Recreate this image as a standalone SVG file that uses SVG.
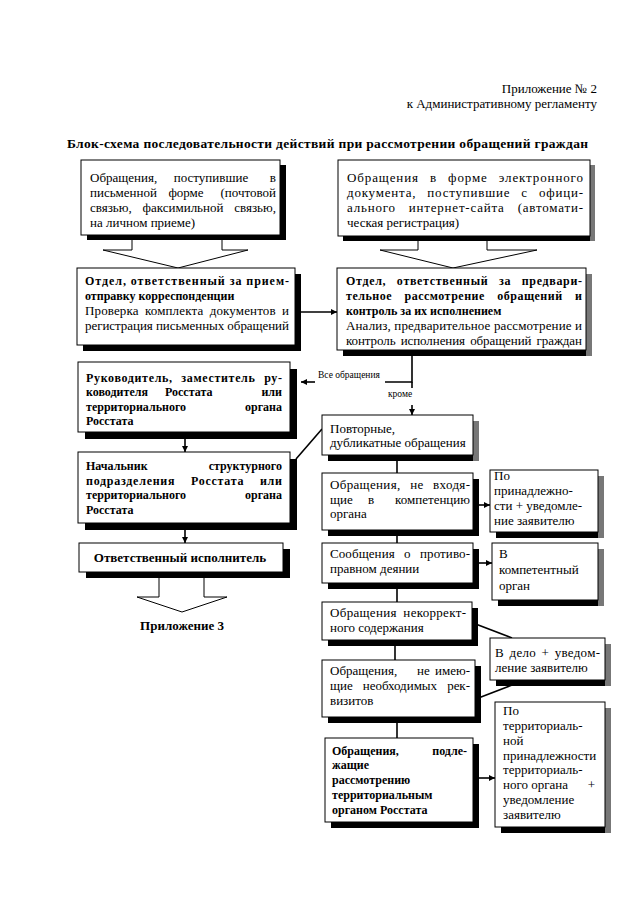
<svg xmlns="http://www.w3.org/2000/svg" width="640" height="905" viewBox="0 0 640 905">
<defs>
<style>
.t{font-family:"Liberation Serif","Times New Roman",serif;font-size:13px;fill:#000}
.b{font-weight:bold;font-size:12px}
.e{text-anchor:end}
.m{text-anchor:middle}
.s{font-size:9.5px}
.box{fill:#fff;stroke:#000;stroke-width:1}
.sh{fill:#000}
.shg{fill:#777}
.ln{fill:none;stroke:#000;stroke-width:1.6}
.ba{fill:#fff;stroke:#000;stroke-width:1}
</style>
<marker id="ah" viewBox="0 0 10 10" refX="10" refY="5" markerWidth="7" markerHeight="6" markerUnits="userSpaceOnUse" orient="auto">
<path d="M0,0 L10,5 L0,10 z" fill="#000"/>
</marker>
</defs>
<rect width="640" height="905" fill="#fff"/>

<g id="header">
<text class="t e" x="597" y="93">Приложение № 2</text>
<text class="t e" x="597" y="108">к Административному регламенту</text>
<text class="t" x="67" y="148" style="font-weight:bold;font-size:13.5px" textLength="521" lengthAdjust="spacing">Блок-схема последовательности действий при рассмотрении обращений граждан</text>
</g>

<g id="connectors">
<path class="ba" d="M132,240 V250 H103 L178,268 L248,250 H222 V240"/>
<path class="ba" d="M418,241 V250 H380 L453,268 L537,250 H487 V241"/>
<line class="ln" x1="301" y1="312" x2="337" y2="312" marker-end="url(#ah)"/>
<polyline class="ln" points="412,356 412,382 385,382"/>
<line class="ln" x1="412" y1="382" x2="412" y2="388"/>
<line class="ln" x1="315" y1="382" x2="301" y2="382" marker-end="url(#ah)"/>
<line class="ln" x1="412" y1="405" x2="412" y2="415" marker-end="url(#ah)"/>
<line class="ln" x1="185" y1="439" x2="185" y2="452" marker-end="url(#ah)"/>
<line class="ln" x1="296" y1="459" x2="322" y2="429"/>
<line class="ln" x1="185" y1="529" x2="185" y2="543" marker-end="url(#ah)"/>
<path class="ba" d="M159,578 V597 H137 L182,612 L227,597 H204 V578"/>
<line class="ln" x1="397" y1="455" x2="397" y2="473"/>
<line class="ln" x1="397" y1="525" x2="397" y2="543"/>
<line class="ln" x1="397" y1="585" x2="397" y2="602"/>
<line class="ln" x1="395" y1="642" x2="395" y2="660"/>
<line class="ln" x1="397" y1="723" x2="397" y2="738"/>
<line class="ln" x1="474" y1="505" x2="490" y2="505" marker-end="url(#ah)"/>
<line class="ln" x1="475" y1="563" x2="492" y2="563" marker-end="url(#ah)"/>
<line class="ln" x1="473" y1="623" x2="512" y2="638"/>
<line class="ln" x1="468" y1="702" x2="512" y2="685"/>
<line class="ln" x1="465" y1="778" x2="495" y2="778" marker-end="url(#ah)"/>
<text class="t s" x="318" y="378">Все обращения</text>
<text class="t s" x="388" y="397">кроме</text>
</g>

<g id="n1">
<rect class="sh" x="87" y="165" width="199" height="75"/>
<rect class="box" x="81" y="160" width="199" height="75"/>
<text class="t" x="90" y="182">Обращения,</text>
<text class="t m" x="211" y="182">поступившие</text>
<text class="t e" x="276" y="182">в</text>
<text class="t" x="90" y="197">письменной</text>
<text class="t m" x="186" y="197">форме</text>
<text class="t e" x="276" y="197">(почтовой</text>
<text class="t" x="90" y="212">связью,</text>
<text class="t m" x="183" y="212">факсимильной</text>
<text class="t e" x="276" y="212">связью,</text>
<text class="t" x="90" y="227">на личном приеме)</text>
</g>

<g id="n2">
<rect class="sh" x="343" y="236" width="252" height="5"/>
<rect class="shg" x="590" y="165" width="5" height="76"/>
<rect class="box" x="338" y="160" width="252" height="76"/>
<text class="t" x="347" y="182" style="word-spacing:7px" textLength="236" lengthAdjust="spacing">Обращения в форме электронного</text>
<text class="t" x="347" y="197" style="word-spacing:7px" textLength="236" lengthAdjust="spacing">документа, поступившие с офици-</text>
<text class="t" x="347" y="212" style="word-spacing:9px" textLength="236" lengthAdjust="spacing">ального интернет-сайта (автомати-</text>
<text class="t" x="347" y="227">ческая регистрация)</text>
</g>

<g id="n3">
<rect class="sh" x="83" y="274" width="218" height="77"/>
<rect class="box" x="77" y="268" width="218" height="77"/>
<text class="t b" x="85" y="285" textLength="204" lengthAdjust="spacing">Отдел, ответственный за прием-</text>
<text class="t b" x="85" y="300">отправку корреспонденции</text>
<text class="t" x="85" y="315" style="word-spacing:3px" textLength="204" lengthAdjust="spacing">Проверка комплекта документов и</text>
<text class="t" x="85" y="330" textLength="204" lengthAdjust="spacing">регистрация письменных обращений</text>
</g>

<g id="n4">
<rect class="sh" x="343" y="350" width="249" height="6"/>
<rect class="shg" x="586" y="274" width="6" height="82"/>
<rect class="box" x="337" y="268" width="249" height="82"/>
<text class="t b" x="346" y="285" style="word-spacing:7px" textLength="236" lengthAdjust="spacing">Отдел, ответственный за предвари-</text>
<text class="t b" x="346" y="300" style="word-spacing:9px" textLength="236" lengthAdjust="spacing">тельное рассмотрение обращений и</text>
<text class="t b" x="346" y="315">контроль за их исполнением</text>
<text class="t" x="346" y="330" textLength="236" lengthAdjust="spacing">Анализ, предварительное рассмотрение и</text>
<text class="t" x="346" y="345" style="word-spacing:2px" textLength="236" lengthAdjust="spacing">контроль исполнения обращений граждан</text>
</g>

<g id="n5">
<rect class="sh" x="85" y="369" width="212" height="70"/>
<rect class="box" x="78" y="362" width="212" height="70"/>
<text class="t b" x="86" y="382" style="word-spacing:5px" textLength="196" lengthAdjust="spacing">Руководитель, заместитель ру-</text>
<text class="t b" x="86" y="396">ководителя</text>
<text class="t b" x="165" y="396">Росстата</text>
<text class="t b e" x="282" y="396">или</text>
<text class="t b" x="86" y="411">территориального</text>
<text class="t b e" x="282" y="411">органа</text>
<text class="t b" x="86" y="425">Росстата</text>
</g>

<g id="n6">
<rect class="sh" x="85" y="459" width="212" height="71"/>
<rect class="box" x="78" y="452" width="212" height="71"/>
<text class="t b" x="86" y="470">Начальник</text>
<text class="t b e" x="282" y="470">структурного</text>
<text class="t b" x="86" y="485" style="word-spacing:12px" textLength="196" lengthAdjust="spacing">подразделения Росстата или</text>
<text class="t b" x="86" y="499">территориального</text>
<text class="t b e" x="282" y="499">органа</text>
<text class="t b" x="86" y="514">Росстата</text>
</g>

<g id="n7">
<rect class="sh" x="86" y="549" width="204" height="29"/>
<rect class="box" x="79" y="543" width="204" height="29"/>
<text class="t m" x="180" y="562" style="font-weight:bold">Ответственный исполнитель</text>
</g>

<g id="n8">
<text class="t m" x="182" y="630" style="font-weight:bold">Приложение 3</text>
</g>

<g id="r1">
<rect class="sh" x="328" y="455" width="151" height="6"/>
<rect class="shg" x="473" y="421" width="6" height="40"/>
<rect class="box" x="322" y="415" width="151" height="40"/>
<text class="t" x="330" y="433">Повторные,</text>
<text class="t" x="330" y="447">дубликатные обращения</text>
</g>

<g id="r2">
<rect class="sh" x="328" y="479" width="151" height="57"/>
<rect class="box" x="322" y="473" width="151" height="57"/>
<text class="t" x="330" y="489" style="word-spacing:6px" textLength="140" lengthAdjust="spacing">Обращения, не входя-</text>
<text class="t" x="330" y="504">щие</text>
<text class="t" x="368" y="504">в</text>
<text class="t e" x="470" y="504">компетенцию</text>
<text class="t" x="330" y="518">органа</text>
</g>

<g id="r3">
<rect class="sh" x="496" y="532" width="108" height="6"/>
<rect class="shg" x="598" y="476" width="6" height="62"/>
<rect class="box" x="490" y="470" width="108" height="62"/>
<text class="t" x="494" y="480">По</text>
<text class="t" x="494" y="495">принадлежно-</text>
<text class="t" x="494" y="510">сти + уведомле-</text>
<text class="t" x="494" y="525">ние заявителю</text>
</g>

<g id="r4">
<rect class="sh" x="328" y="549" width="151" height="40"/>
<rect class="box" x="322" y="543" width="151" height="40"/>
<text class="t" x="330" y="558" style="word-spacing:6px" textLength="140" lengthAdjust="spacing">Сообщения о противо-</text>
<text class="t" x="330" y="573">правном деянии</text>
</g>

<g id="r5">
<rect class="sh" x="498" y="600" width="106" height="6"/>
<rect class="shg" x="598" y="549" width="6" height="57"/>
<rect class="box" x="492" y="543" width="106" height="57"/>
<text class="t" x="499" y="558">В</text>
<text class="t" x="499" y="574">компетентный</text>
<text class="t" x="499" y="590">орган</text>
</g>

<g id="r6">
<rect class="sh" x="328" y="608" width="150" height="38"/>
<rect class="box" x="322" y="602" width="150" height="38"/>
<text class="t" x="330" y="617" style="word-spacing:3px" textLength="136" lengthAdjust="spacing">Обращения некоррект-</text>
<text class="t" x="330" y="632">ного содержания</text>
</g>

<g id="r7">
<rect class="sh" x="496" y="680" width="115" height="6"/>
<rect class="shg" x="605" y="644" width="6" height="42"/>
<rect class="box" x="490" y="638" width="115" height="42"/>
<text class="t" x="495" y="657" style="word-spacing:2px" textLength="105" lengthAdjust="spacing">В дело + уведом-</text>
<text class="t" x="495" y="672">ление заявителю</text>
</g>

<g id="r8">
<rect class="sh" x="328" y="666" width="153" height="57"/>
<rect class="box" x="322" y="660" width="153" height="57"/>
<text class="t" x="330" y="675">Обращения,</text>
<text class="t" x="417" y="675">не</text>
<text class="t e" x="470" y="675">имею-</text>
<text class="t" x="330" y="690" style="word-spacing:7px" textLength="140" lengthAdjust="spacing">щие необходимых рек-</text>
<text class="t" x="330" y="705">визитов</text>
</g>

<g id="r9">
<rect class="sh" x="331" y="744" width="148" height="84"/>
<rect class="box" x="325" y="738" width="148" height="84"/>
<text class="t b" x="332" y="755">Обращения,</text>
<text class="t b e" x="467" y="755">подле-</text>
<text class="t b" x="332" y="769">жащие</text>
<text class="t b" x="332" y="784">рассмотрению</text>
<text class="t b" x="332" y="799">территориальным</text>
<text class="t b" x="332" y="814">органом Росстата</text>
</g>

<g id="r10">
<rect class="sh" x="501" y="827" width="110" height="6"/>
<rect class="shg" x="605" y="708" width="6" height="125"/>
<rect class="box" x="495" y="702" width="110" height="125"/>
<text class="t" x="503" y="715">По</text>
<text class="t" x="503" y="730">территориаль-</text>
<text class="t" x="503" y="745">ной</text>
<text class="t" x="503" y="760">принадлежности</text>
<text class="t" x="503" y="774">территориаль-</text>
<text class="t" x="503" y="789">ного органа</text>
<text class="t e" x="595" y="789">+</text>
<text class="t" x="503" y="804">уведомление</text>
<text class="t" x="503" y="819">заявителю</text>
</g>
</svg>
